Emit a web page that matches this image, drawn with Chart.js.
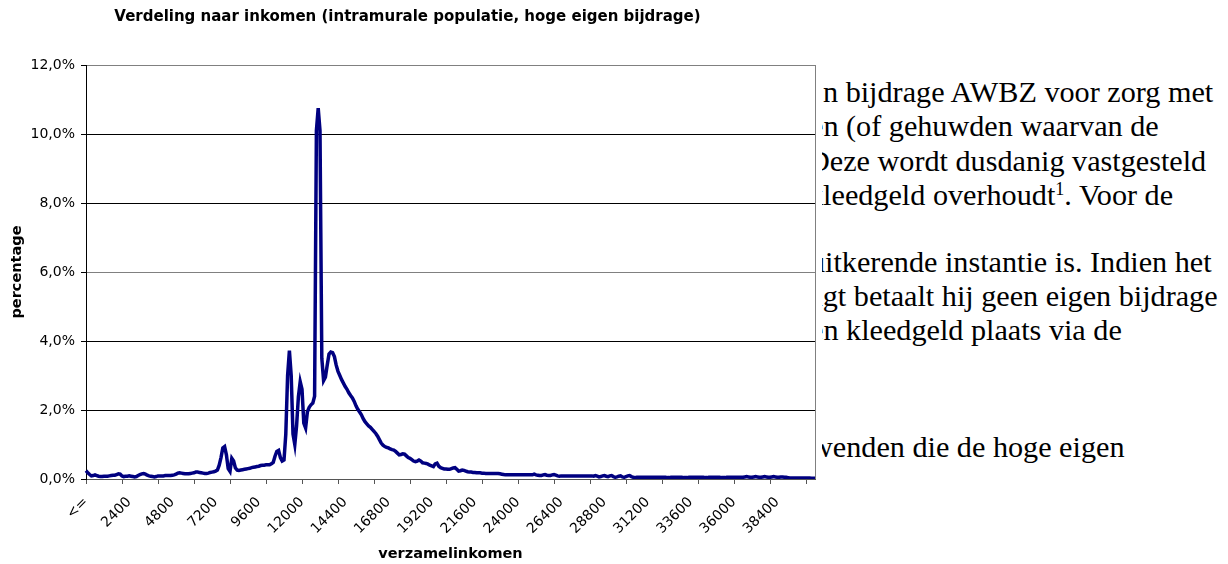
<!DOCTYPE html>
<html>
<head>
<meta charset="utf-8">
<script src="https://cdn.jsdelivr.net/npm/chart.js@4/dist/chart.umd.min.js"></script>
<style>
  html, body { margin: 0; padding: 0; background: #fff; }
  #page { position: relative; width: 1228px; height: 564px; overflow: hidden; }
  #grafiek { position: absolute; left: 0; top: 0; width: 822px; height: 564px; }
  #tekst { position: absolute; left: 822px; top: 0; width: 406px; height: 564px; overflow: hidden;
           font-family: "Liberation Serif", "Times New Roman", serif; font-size: 30.2px; color: #000; }
  #tekst div { position: absolute; white-space: nowrap; line-height: 30px; }
  #tekst sup { font-size: 60%; line-height: 0; vertical-align: 0.55em; }
</style>
</head>
<body>
<div id="page">
  <div id="grafiek"><canvas id="lijn" width="822" height="564"></canvas></div>
  <div id="tekst">
    <div style="left:1px; top:77px">n bijdrage AWBZ voor zorg met</div>
    <div style="left:-12px; top:111px">en (of gehuwden waarvan de</div>
    <div style="left:-14px; top:146px">Deze wordt dusdanig vastgesteld</div>
    <div style="left:-14px; top:180px">kleedgeld overhoudt<sup>1</sup>. Voor de</div>
    <div style="left:-12px; top:247px">uitkerende instantie is. Indien het</div>
    <div style="left:-16px; top:281px">ligt betaalt hij geen eigen bijdrage</div>
    <div style="left:-12px; top:315px">en kleedgeld plaats via de</div>
    <div style="left:-11px; top:432px">wenden die de hoge eigen</div>
  </div>
</div>
<script>
const titel = 'Verdeling naar inkomen (intramurale populatie, hoge eigen bijdrage)';
const asTitelX = 'verzamelinkomen';
const asTitelY = 'percentage';

// inkomensklassen in stappen van 100, de eerste is "<="
const stap = 100;
const aantalKlassen = 406;
const klassen = ['<='];
for (let i = 1; i < aantalKlassen; i++) klassen.push(String(i * stap));

// om de 24 klassen een label, om de 20 klassen een streepje
const labelElke = 24;
const streepjeElke = 20;

const yTicks = [0, 2, 4, 6, 8, 10, 12];

const percentages = [
  0.24,0.18,0.13,0.09,0.10,0.12,0.10,0.08,0.07,0.07,0.08,0.08,0.08,0.09,0.10,0.11,0.11,0.13,0.15,0.14,
  0.09,0.07,0.08,0.08,0.09,0.08,0.07,0.06,0.07,0.10,0.13,0.15,0.16,0.14,0.11,0.09,0.08,0.07,0.06,0.07,
  0.09,0.09,0.09,0.09,0.10,0.10,0.10,0.10,0.11,0.12,0.14,0.17,0.18,0.17,0.16,0.15,0.15,0.15,0.16,0.17,
  0.18,0.20,0.20,0.19,0.18,0.17,0.16,0.16,0.17,0.19,0.20,0.21,0.23,0.26,0.40,0.62,0.90,0.94,0.70,0.30,
  0.22,0.60,0.52,0.32,0.26,0.25,0.26,0.27,0.28,0.29,0.30,0.31,0.33,0.34,0.35,0.36,0.37,0.39,0.40,0.40,
  0.41,0.41,0.41,0.44,0.48,0.66,0.80,0.83,0.62,0.52,0.55,1.30,3.00,3.72,3.00,1.30,1.00,1.55,2.39,2.82,
  2.60,1.62,1.48,1.95,2.08,2.15,2.20,2.40,10.10,10.75,10.10,3.50,2.85,2.95,3.30,3.62,3.68,3.66,3.55,3.30,
  3.12,3.00,2.88,2.78,2.68,2.60,2.50,2.42,2.35,2.25,2.12,2.02,1.94,1.86,1.75,1.66,1.60,1.54,1.50,1.44,
  1.38,1.32,1.24,1.14,1.04,0.98,0.94,0.92,0.90,0.87,0.85,0.84,0.80,0.75,0.70,0.71,0.73,0.72,0.67,0.62,
  0.60,0.56,0.52,0.50,0.52,0.55,0.52,0.47,0.46,0.45,0.43,0.40,0.38,0.36,0.44,0.46,0.37,0.33,0.31,0.29,
  0.29,0.28,0.28,0.30,0.32,0.33,0.28,0.23,0.24,0.26,0.25,0.23,0.21,0.20,0.20,0.19,0.19,0.18,0.18,0.18,
  0.17,0.17,0.16,0.16,0.16,0.16,0.16,0.16,0.16,0.16,0.15,0.14,0.13,0.12,0.12,0.12,0.12,0.12,0.12,0.12,
  0.12,0.12,0.12,0.12,0.12,0.12,0.12,0.12,0.12,0.14,0.12,0.11,0.10,0.10,0.12,0.13,0.11,0.10,0.10,0.12,
  0.13,0.11,0.09,0.08,0.09,0.09,0.09,0.09,0.09,0.09,0.09,0.09,0.09,0.09,0.09,0.09,0.09,0.09,0.09,0.09,
  0.09,0.09,0.08,0.10,0.08,0.06,0.07,0.09,0.10,0.08,0.07,0.09,0.10,0.07,0.05,0.06,0.08,0.09,0.06,0.05,
  0.07,0.09,0.10,0.07,0.05,0.04,0.05,0.05,0.05,0.05,0.05,0.05,0.05,0.05,0.05,0.05,0.05,0.05,0.05,0.05,
  0.05,0.05,0.05,0.04,0.04,0.05,0.05,0.05,0.05,0.05,0.05,0.05,0.04,0.04,0.04,0.05,0.05,0.05,0.05,0.05,
  0.05,0.05,0.05,0.05,0.04,0.04,0.05,0.05,0.05,0.05,0.05,0.05,0.05,0.04,0.04,0.04,0.05,0.05,0.05,0.05,
  0.05,0.05,0.05,0.05,0.05,0.05,0.06,0.07,0.06,0.05,0.05,0.06,0.07,0.06,0.05,0.05,0.06,0.07,0.06,0.05,
  0.05,0.06,0.07,0.06,0.05,0.05,0.06,0.06,0.05,0.05,0.04,0.03,0.03,0.03,0.03,0.03,0.03,0.03,0.03,0.03,
  0.03,0.03,0.03,0.02,0.02,0.02
];

Chart.defaults.font.family = 'DejaVu Sans';
Chart.defaults.color = '#000';

// rechterrand van het plotgebied
const randRechts = {
  id: 'randRechts',
  afterDraw(chart) {
    const { ctx, chartArea } = chart;
    ctx.save();
    ctx.strokeStyle = '#808080';
    ctx.lineWidth = 1;
    ctx.beginPath();
    ctx.moveTo(chartArea.right + 0.5, chartArea.top);
    ctx.lineTo(chartArea.right + 0.5, chartArea.bottom);
    ctx.stroke();
    ctx.restore();
  }
};

new Chart(document.getElementById('lijn'), {
  type: 'line',
  data: {
    labels: klassen,
    datasets: [{
      label: 'percentage',
      data: percentages,
      borderColor: '#000080',
      borderWidth: 3.5,
      pointRadius: 0,
      tension: 0,
      fill: false
    }]
  },
  options: {
    responsive: false,
    animation: false,
    devicePixelRatio: 1,
    layout: { padding: { left: 0, right: 7, top: 0, bottom: 0 } },
    plugins: {
      legend: { display: false },
      tooltip: { enabled: false },
      title: {
        display: true,
        text: titel,
        font: { size: 15, weight: 'bold' },
        color: '#000',
        padding: { top: 8, bottom: 39 }
      }
    },
    scales: {
      x: {
        offset: false,
        grid: {
          drawOnChartArea: false,
          tickLength: 5,
          tickColor: c => (c.index % streepjeElke === 0 ? '#555' : 'rgba(0,0,0,0)')
        },
        border: { color: '#555' },
        ticks: {
          autoSkip: false,
          minRotation: 45,
          maxRotation: 45,
          padding: 10,
          font: { size: 14 },
          callback: (v, i) => (i % labelElke === 0 ? klassen[i] : '')
        },
        title: {
          display: true,
          text: asTitelX,
          font: { size: 14.5, weight: 'bold' },
          padding: { top: 0, bottom: 1 }
        },
        afterFit: s => {
          s.height = 85;
          s.paddingLeft = 0;
          s.paddingRight = 0;
        }
      },
      y: {
        min: 0,
        max: 12,
        afterBuildTicks: s => { s.ticks = yTicks.map(v => ({ value: v })); },
        grid: {
          color: c => (c.tick && (c.tick.value === 6 || c.tick.value === 12) ? '#808080' : '#000'),
          tickColor: '#000',
          tickLength: 5
        },
        border: { color: '#000' },
        ticks: {
          padding: 6,
          font: { size: 14 },
          callback: v => v.toFixed(1).replace('.', ',') + '%'
        },
        title: {
          display: true,
          text: asTitelY,
          font: { size: 14.5, weight: 'bold' },
          padding: { top: 9, bottom: 0 }
        },
        afterFit: s => { s.width = 86; }
      }
    }
  },
  plugins: [randRechts]
});
</script>
</body>
</html>
